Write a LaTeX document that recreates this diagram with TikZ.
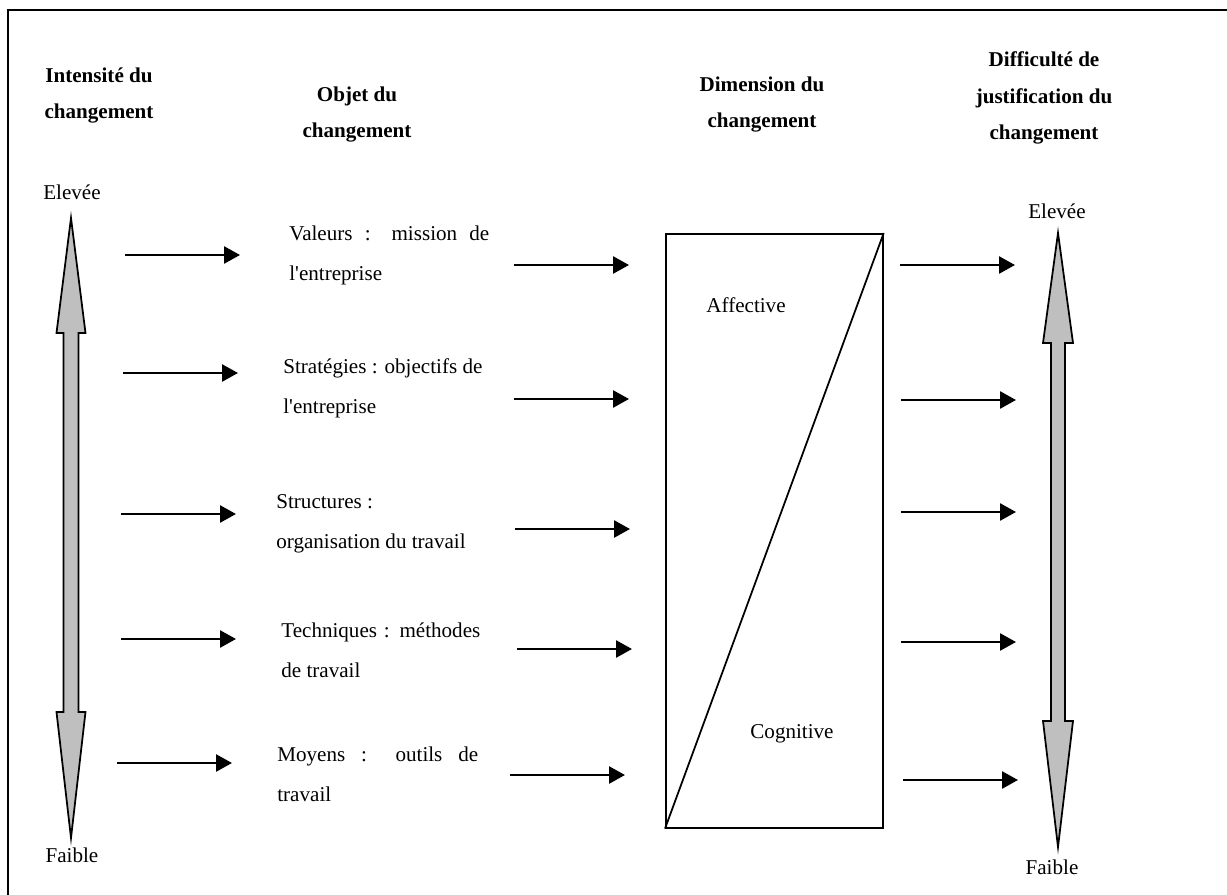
\documentclass[tikz,border=0pt,12pt]{standalone}
\usepackage{fontspec}
\setmainfont{Liberation Serif}
\usetikzlibrary{arrows.meta}
\tikzset{%
	titre/.style  = {font=\bfseries\fontsize{12}{21}\selectfont, align=center, inner sep=0pt, anchor=base}, % Headers
	objet/.style  = {font=\fontsize{12}{22.7}\selectfont, align=left, inner sep=0pt, anchor=base west}, % Object texts
	niveau/.style = {font=\fontsize{12}{14}\selectfont, inner sep=0pt, anchor=base}, % Elevee / Faible
	fleche/.style = {draw, line width=1pt, fill=lightgray, line join=miter}, % Big double arrows
	boite/.style  = {draw, line width=1pt, inner sep=0pt, anchor=north west},
	arrow/.style  = {line width=1.5pt, ->},
}

\begin{document}
\begin{tikzpicture}[x=0.02cm,y=-0.02cm,>={Triangle[length=0.32cm,width=0.34cm]}]
	\useasboundingbox (0,0) rectangle (1227,895);
	\draw[line width=1.2pt] (8,895) -- (8,10) -- (1227,10);
	
	\node [titre] (hint) at (99,119) {Intensit\'e du\\changement};
	\node [titre] (hobj) at (357,138) {Objet du\\changement};
	\node [titre] (hdim) at (762,128) {Dimension du\\changement};
	\node [titre] (hjus) at (1044,140) {Difficult\'e de\\justification du\\changement};
	
	\node [niveau] (eleg) at (72,200) {Elev\'ee};
	\node [niveau] (faig) at (72,862) {Faible};
	\node [niveau] (eled) at (1057,219) {Elev\'ee};
	\node [niveau] (faid) at (1052,874) {Faible};
	
	% double arrows
	\foreach \x/\t/\hb/\lb/\b/\s/\h in {71/218/333/712/838/7.5/14.5, 1058/233/343/721/847/7/15}
		\draw[fleche] (\x,\t) -- (\x+\h,\hb) -- (\x+\s,\hb) -- (\x+\s,\lb) -- (\x+\h,\lb) -- (\x,\b)
			-- (\x-\h,\lb) -- (\x-\s,\lb) -- (\x-\s,\hb) -- (\x-\h,\hb) -- cycle;
	
	\node [objet] (val) at (289,280) {\makebox[4cm][s]{Valeurs : mission de}\\l\textquotesingle entreprise};
	\node [objet] (str) at (283,413) {Strat\'egies : objectifs de\\l\textquotesingle entreprise};
	\node [objet] (stc) at (276,548) {Structures :\\organisation du travail};
	\node [objet] (tec) at (281,677) {\makebox[3.98cm][s]{Techniques : m\'ethodes}\\de travail};
	\node [objet] (moy) at (277,801) {\makebox[4.02cm][s]{Moyens : outils de}\\travail};
	
	\node [boite, minimum width=4.34cm, minimum height=11.88cm] (dim) at (665,233) {};
	\draw[line width=1pt] (dim.south west) -- (dim.north east);
	\node [niveau] (aff) at (746,313) {Affective};
	\node [niveau] (cog) at (792,738) {Cognitive};
	
	% small arrows
	\foreach \n/\xa/\ya/\xb/\yb/\xc/\yc in {1/125/255/514/265/900/265, 2/123/373/514/399/901/400,
		3/121/514/515/529/901/512, 4/121/639/517/649/901/642, 5/117/763/510/775/903/780} {
		\coordinate (as\n) at (\xa,\ya);
		\coordinate (ae\n) at (\xa+115,\ya);
		\coordinate (bs\n) at (\xb,\yb);
		\coordinate (be\n) at (\xb+115,\yb);
		\coordinate (cs\n) at (\xc,\yc);
		\coordinate (ce\n) at (\xc+115,\yc);
		\draw[arrow] (as\n) -- (ae\n);
		\draw[arrow] (bs\n) -- (be\n);
		\draw[arrow] (cs\n) -- (ce\n);
	}
\end{tikzpicture}
\end{document}
